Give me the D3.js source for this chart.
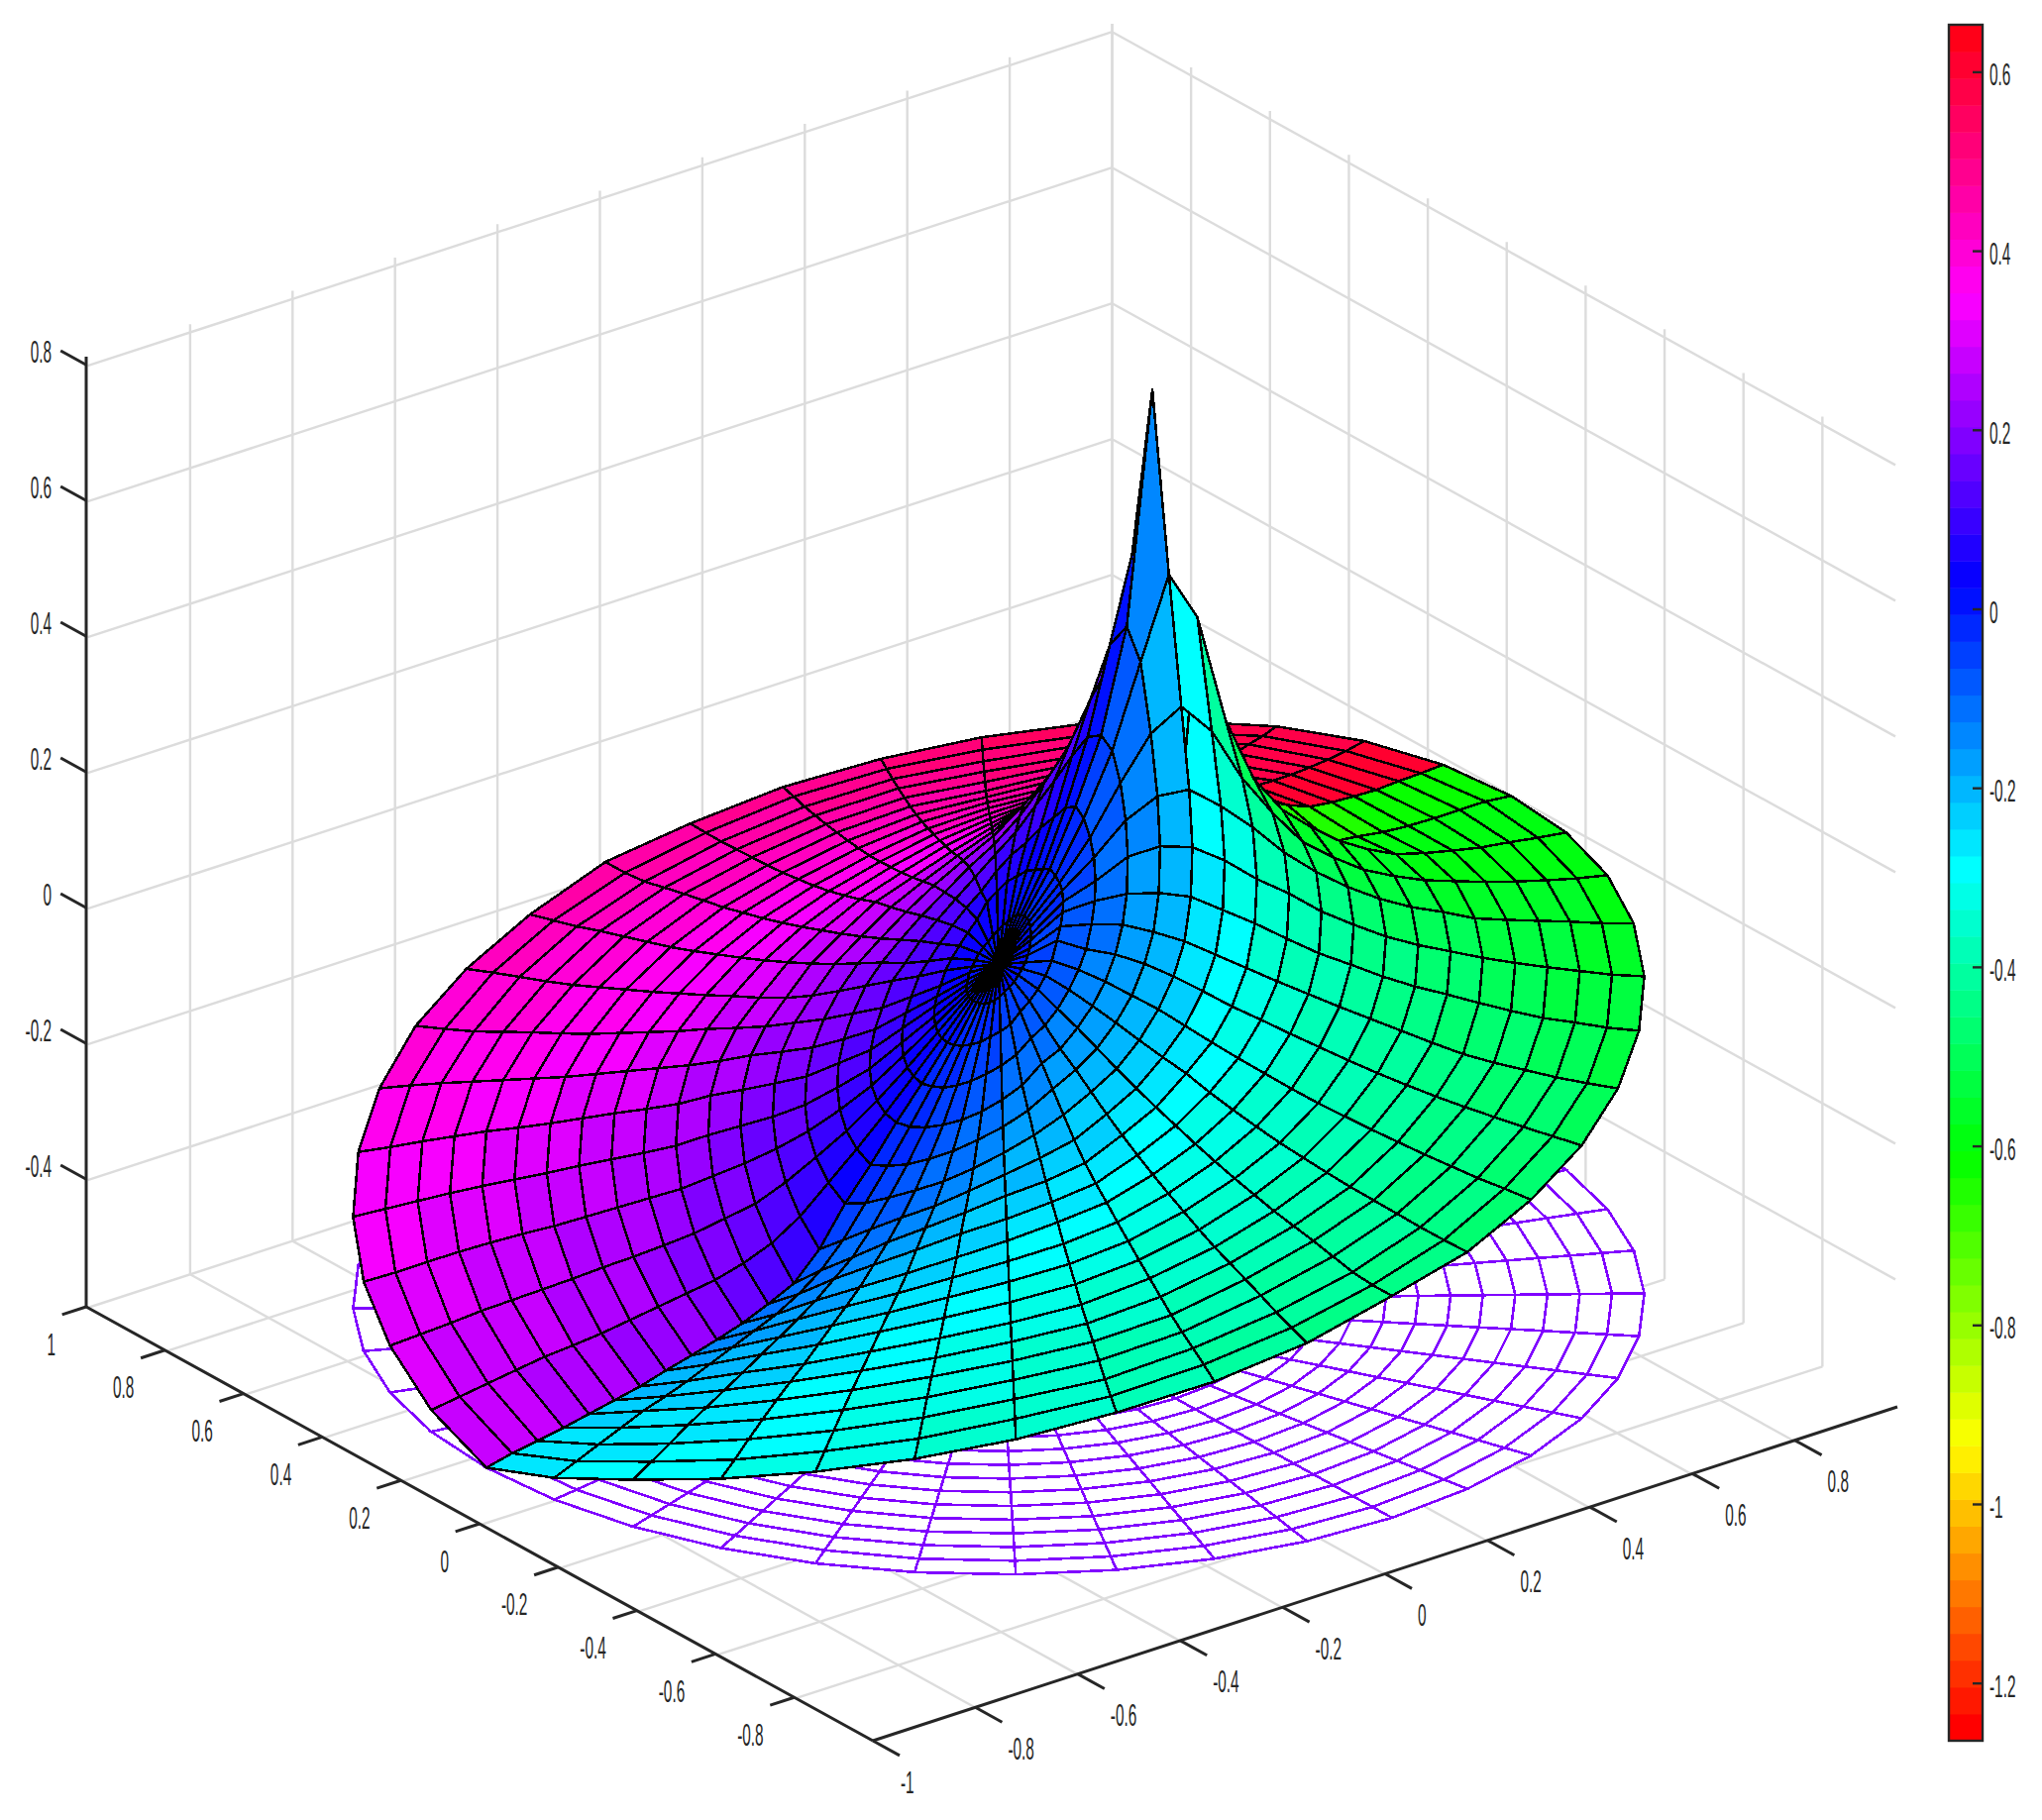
<!DOCTYPE html>
<html><head><meta charset="utf-8">
<script src="https://cdn.jsdelivr.net/npm/d3@7/dist/d3.min.js"></script>
<style>html,body{margin:0;padding:0;background:#fff}svg{display:block}text{font-family:"Liberation Sans",Arial,sans-serif;font-size:32px;fill:#262626}</style>
</head><body><svg id="c" width="2061" height="1837"></svg>
<script>
const ringRadii=[0,.05,.1,.15,.2,.25,.3,.35,.4,.45,.5,.55,.6,.65,.7,.75,.8,.85,.9,.95,1];
const spokeAngles=[-180,-171,-162,-153,-144,-135,-126,-117,-108,-99,-90,-81,-72,-63,-54,-45,-36,-27,-18,-9,0,9,18,27,36,45,54,63,72,81,90,99,108,117,126,135,144,153,162,171,180];
const heightRows=[
[-.016,-.016,-.016,-.016,-.016,-.016,-.016,-.016,-.016,-.016,-.016,-.016,-.016,-.016,-.016,-.016,-.016,-.016,-.016,-.016,-.016,-.016,-.016,-.016,-.016,-.016,-.016,-.016,-.016,-.016,-.016,-.016,-.016,-.016,-.016,-.016,-.016,-.016,-.016,-.016,-.016],
[-.058,-.058,-.057,-.056,-.053,-.049,-.044,-.037,-.031,-.024,-.016,-.009,-.002,.006,.013,.022,.027,.035,.04,.042,.043,.042,.04,.035,.027,.022,.013,.006,-.002,-.009,-.016,-.024,-.031,-.037,-.044,-.049,-.053,-.056,-.057,-.058,-.058],
[-.107,-.106,-.103,-.098,-.092,-.083,-.075,-.065,-.048,-.035,-.021,-.005,.012,.036,.051,.066,.075,.085,.09,.095,.1,.095,.09,.085,.075,.066,.051,.036,.012,-.005,-.021,-.035,-.048,-.065,-.075,-.083,-.092,-.098,-.103,-.106,-.107],
[-.155,-.152,-.148,-.14,-.13,-.118,-.105,-.09,-.068,-.053,-.034,-.012,.01,.032,.06,.085,.105,.13,.15,.17,.18,.17,.15,.13,.105,.085,.06,.032,.01,-.012,-.034,-.053,-.068,-.09,-.105,-.118,-.13,-.14,-.148,-.152,-.155],
[-.2,-.197,-.19,-.18,-.168,-.153,-.135,-.115,-.086,-.07,-.046,-.022,.004,.033,.065,.098,.14,.181,.224,.26,.272,.26,.224,.181,.14,.098,.065,.033,.004,-.022,-.046,-.07,-.086,-.115,-.135,-.153,-.168,-.18,-.19,-.197,-.2],
[-.25,-.24,-.228,-.212,-.195,-.175,-.155,-.132,-.105,-.083,-.06,-.033,-.005,.028,.06,.102,.155,.213,.29,.381,.42,.381,.29,.213,.155,.102,.06,.028,-.005,-.033,-.06,-.083,-.105,-.132,-.155,-.175,-.195,-.212,-.228,-.24,-.25],
[-.295,-.28,-.26,-.24,-.22,-.197,-.173,-.149,-.124,-.098,-.074,-.045,-.014,.018,.052,.099,.153,.219,.323,.5,.757,.5,.323,.219,.153,.099,.052,.018,-.014,-.045,-.074,-.098,-.124,-.149,-.173,-.197,-.22,-.24,-.26,-.28,-.295],
[-.35,-.32,-.29,-.262,-.237,-.21,-.185,-.163,-.142,-.113,-.087,-.056,-.027,.005,.038,.082,.133,.191,.28,.428,.08,.428,.28,.191,.133,.082,.038,.005,-.027,-.056,-.087,-.113,-.142,-.163,-.185,-.21,-.237,-.262,-.29,-.32,-.35],
[-.388,-.35,-.315,-.28,-.25,-.222,-.196,-.177,-.157,-.126,-.099,-.066,-.04,-.009,.024,.065,.105,.156,.204,.266,.06,.266,.204,.156,.105,.065,.024,-.009,-.04,-.066,-.099,-.126,-.157,-.177,-.196,-.222,-.25,-.28,-.315,-.35,-.388],
[-.406,-.37,-.33,-.295,-.263,-.233,-.21,-.188,-.168,-.138,-.11,-.08,-.052,-.02,.01,.045,.083,.115,.146,.17,.045,.17,.146,.115,.083,.045,.01,-.02,-.052,-.08,-.11,-.138,-.168,-.188,-.21,-.233,-.263,-.295,-.33,-.37,-.406],
[-.422,-.385,-.345,-.31,-.278,-.248,-.222,-.198,-.177,-.149,-.121,-.092,-.063,-.032,-.003,.026,.056,.083,.096,.115,.03,.115,.096,.083,.056,.026,-.003,-.032,-.063,-.092,-.121,-.149,-.177,-.198,-.222,-.248,-.278,-.31,-.345,-.385,-.422],
[-.434,-.395,-.356,-.32,-.288,-.258,-.232,-.21,-.187,-.159,-.131,-.103,-.074,-.043,-.016,.012,.036,.057,.067,.08,.02,.08,.067,.057,.036,.012,-.016,-.043,-.074,-.103,-.131,-.159,-.187,-.21,-.232,-.258,-.288,-.32,-.356,-.395,-.434],
[-.445,-.405,-.366,-.33,-.297,-.267,-.242,-.22,-.196,-.168,-.14,-.113,-.084,-.054,-.028,-.003,.018,.036,.042,.05,.012,.05,.042,.036,.018,-.003,-.028,-.054,-.084,-.113,-.14,-.168,-.196,-.22,-.242,-.267,-.297,-.33,-.366,-.405,-.445],
[-.455,-.415,-.375,-.34,-.306,-.277,-.252,-.23,-.205,-.177,-.148,-.121,-.092,-.064,-.04,-.015,.005,.02,.026,.028,.004,.028,.026,.02,.005,-.015,-.04,-.064,-.092,-.121,-.148,-.177,-.205,-.23,-.252,-.277,-.306,-.34,-.375,-.415,-.455],
[-.466,-.425,-.385,-.35,-.316,-.287,-.262,-.24,-.213,-.185,-.156,-.129,-.1,-.073,-.052,-.024,-.005,.009,.013,.011,0,.011,.013,.009,-.005,-.024,-.052,-.073,-.1,-.129,-.156,-.185,-.213,-.24,-.262,-.287,-.316,-.35,-.385,-.425,-.466],
[-.474,-.433,-.394,-.358,-.325,-.296,-.27,-.248,-.221,-.191,-.162,-.136,-.107,-.081,-.063,-.034,-.015,-.004,.005,.003,-.006,.003,.005,-.004,-.015,-.034,-.063,-.081,-.107,-.136,-.162,-.191,-.221,-.248,-.27,-.296,-.325,-.358,-.394,-.433,-.474],
[-.482,-.44,-.403,-.367,-.334,-.304,-.278,-.255,-.229,-.197,-.168,-.142,-.114,-.088,-.07,-.043,-.023,-.01,-.003,-.003,-.009,-.003,-.003,-.01,-.023,-.043,-.07,-.088,-.114,-.142,-.168,-.197,-.229,-.255,-.278,-.304,-.334,-.367,-.403,-.44,-.482],
[-.49,-.45,-.412,-.377,-.344,-.314,-.286,-.263,-.235,-.203,-.175,-.148,-.12,-.094,-.075,-.051,-.03,-.015,-.009,-.008,-.01,-.008,-.009,-.015,-.03,-.051,-.075,-.094,-.12,-.148,-.175,-.203,-.235,-.263,-.286,-.314,-.344,-.377,-.412,-.45,-.49],
[-.497,-.46,-.423,-.388,-.355,-.324,-.294,-.271,-.24,-.21,-.182,-.154,-.126,-.1,-.08,-.055,-.036,-.02,-.014,-.01,-.01,-.01,-.014,-.02,-.036,-.055,-.08,-.1,-.126,-.154,-.182,-.21,-.24,-.271,-.294,-.324,-.355,-.388,-.423,-.46,-.497],
[-.503,-.47,-.433,-.4,-.366,-.335,-.303,-.276,-.245,-.215,-.185,-.159,-.13,-.105,-.083,-.06,-.042,-.026,-.018,-.013,-.01,-.013,-.018,-.026,-.042,-.06,-.083,-.105,-.13,-.159,-.185,-.215,-.245,-.276,-.303,-.335,-.366,-.4,-.433,-.47,-.503],
[-.512,-.48,-.443,-.41,-.377,-.345,-.313,-.28,-.251,-.22,-.185,-.163,-.135,-.11,-.085,-.062,-.045,-.03,-.02,-.015,-.014,-.015,-.02,-.03,-.045,-.062,-.085,-.11,-.135,-.163,-.185,-.22,-.251,-.28,-.313,-.345,-.377,-.41,-.443,-.48,-.512]
];
const colourRows=[
[0,0,0,0,0,0,0,0,0,0,0,0,0,0,0,0,0,0,0,0,0,0,0,0,0,0,0,0,0,0,0,0,0,0,0,0,0,0,0,0,0],
[-.002,-.01,-.015,-.02,-.027,-.032,-.036,-.04,-.043,-.044,-.045,-.044,-.043,-.04,-.036,-.032,-.027,-.02,-.015,-.01,0,.01,.015,.02,.027,.032,.036,.04,.043,.044,.045,.044,.043,.04,.036,.032,.027,.02,.015,.01,.002],
[-.01,-.015,-.03,-.042,-.054,-.064,-.073,-.08,-.085,-.088,-.09,-.088,-.085,-.08,-.075,-.07,-.06,-.05,-.035,-.02,0,.02,.035,.05,.06,.07,.075,.08,.085,.088,.09,.088,.085,.08,.073,.064,.054,.042,.03,.015,.01],
[-.015,-.025,-.045,-.062,-.08,-.093,-.105,-.115,-.123,-.128,-.13,-.13,-.127,-.122,-.117,-.11,-.1,-.085,-.07,-.04,0,.04,.07,.085,.1,.11,.117,.122,.127,.13,.13,.128,.123,.115,.105,.093,.08,.062,.045,.025,.015],
[-.02,-.035,-.06,-.08,-.102,-.12,-.135,-.148,-.158,-.166,-.17,-.17,-.17,-.167,-.165,-.16,-.15,-.14,-.12,-.07,0,.07,.12,.14,.15,.16,.165,.167,.17,.17,.17,.166,.158,.148,.135,.12,.102,.08,.06,.035,.02],
[-.03,-.05,-.075,-.1,-.124,-.145,-.163,-.178,-.19,-.2,-.205,-.206,-.208,-.21,-.213,-.215,-.215,-.21,-.19,-.14,0,.14,.19,.21,.215,.215,.213,.21,.208,.206,.205,.2,.19,.178,.163,.145,.124,.1,.075,.05,.03],
[-.05,-.07,-.095,-.12,-.145,-.17,-.19,-.205,-.22,-.23,-.235,-.24,-.245,-.25,-.26,-.27,-.28,-.29,-.29,-.3,0,.3,.29,.29,.28,.27,.26,.25,.245,.24,.235,.23,.22,.205,.19,.17,.145,.12,.095,.07,.05],
[-.08,-.1,-.125,-.145,-.17,-.195,-.215,-.23,-.245,-.255,-.265,-.27,-.28,-.29,-.305,-.32,-.33,-.35,-.42,-.58,-1.26,.58,.42,.35,.33,.32,.305,.29,.28,.27,.265,.255,.245,.23,.215,.195,.17,.145,.125,.105,.1],
[-.1,-.12,-.145,-.18,-.2,-.22,-.24,-.255,-.27,-.28,-.29,-.3,-.31,-.325,-.34,-.36,-.385,-.42,-.5,-.6,-1,.6,.5,.42,.385,.36,.34,.325,.31,.3,.29,.28,.27,.255,.24,.22,.2,.18,.16,.14,.12],
[-.12,-.14,-.16,-.2,-.22,-.24,-.26,-.275,-.29,-.3,-.31,-.32,-.335,-.35,-.37,-.39,-.42,-.47,-.53,-.6,-.85,.6,.53,.47,.42,.39,.37,.35,.335,.32,.31,.3,.29,.275,.26,.24,.22,.2,.18,.165,.15],
[-.14,-.16,-.18,-.22,-.24,-.26,-.28,-.295,-.31,-.32,-.33,-.34,-.355,-.37,-.395,-.42,-.45,-.5,-.55,-.6,-.75,.6,.55,.5,.45,.42,.395,.37,.355,.34,.33,.32,.31,.295,.28,.26,.24,.22,.2,.185,.17],
[-.155,-.175,-.2,-.235,-.255,-.275,-.295,-.31,-.325,-.335,-.345,-.36,-.375,-.39,-.415,-.44,-.47,-.52,-.56,-.6,-.68,.6,.56,.52,.47,.44,.415,.39,.375,.36,.345,.335,.325,.31,.295,.275,.255,.235,.22,.205,.19],
[-.17,-.19,-.215,-.25,-.27,-.29,-.31,-.325,-.34,-.35,-.36,-.375,-.39,-.405,-.43,-.455,-.49,-.53,-.57,-.6,-.65,.6,.57,.53,.49,.455,.43,.405,.39,.375,.36,.35,.34,.325,.31,.29,.27,.25,.235,.22,.2],
[-.19,-.205,-.23,-.26,-.28,-.3,-.32,-.34,-.355,-.365,-.375,-.39,-.405,-.42,-.445,-.47,-.505,-.54,-.575,-.6,-.64,.6,.575,.54,.505,.47,.445,.42,.405,.39,.375,.365,.355,.34,.32,.3,.28,.26,.245,.23,.22],
[-.205,-.22,-.24,-.27,-.29,-.31,-.33,-.35,-.365,-.38,-.39,-.405,-.42,-.435,-.46,-.485,-.515,-.55,-.58,-.6,-.635,.6,.58,.55,.515,.485,.46,.435,.42,.405,.39,.38,.365,.35,.33,.31,.29,.27,.255,.24,.23],
[-.22,-.235,-.25,-.28,-.3,-.32,-.34,-.36,-.375,-.39,-.4,-.415,-.43,-.45,-.47,-.495,-.525,-.555,-.58,-.6,-.63,.6,.58,.555,.525,.495,.47,.45,.43,.415,.4,.39,.375,.36,.34,.32,.3,.28,.265,.25,.24],
[-.235,-.25,-.26,-.29,-.31,-.33,-.35,-.37,-.385,-.4,-.41,-.43,-.445,-.46,-.485,-.51,-.535,-.56,-.585,-.6,-.63,.6,.585,.56,.535,.51,.485,.46,.445,.43,.41,.4,.385,.37,.35,.33,.31,.29,.275,.26,.25],
[-.25,-.26,-.27,-.3,-.32,-.335,-.355,-.375,-.395,-.41,-.42,-.44,-.455,-.475,-.495,-.52,-.545,-.565,-.585,-.6,-.63,.6,.585,.565,.545,.52,.495,.475,.455,.44,.42,.41,.395,.375,.355,.335,.32,.3,.285,.27,.26],
[-.265,-.27,-.28,-.305,-.325,-.34,-.36,-.38,-.4,-.42,-.43,-.45,-.47,-.485,-.505,-.53,-.555,-.57,-.59,-.6,-.63,.6,.59,.57,.555,.53,.505,.485,.47,.45,.43,.42,.4,.38,.36,.34,.325,.305,.29,.28,.27],
[-.275,-.28,-.29,-.31,-.33,-.345,-.365,-.385,-.41,-.43,-.445,-.46,-.48,-.5,-.52,-.545,-.56,-.58,-.59,-.6,-.63,.6,.59,.58,.56,.545,.52,.5,.48,.46,.445,.43,.41,.385,.365,.345,.33,.31,.295,.285,.28],
[-.285,-.29,-.3,-.315,-.335,-.35,-.37,-.39,-.415,-.435,-.455,-.47,-.49,-.51,-.53,-.555,-.57,-.58,-.59,-.6,-.63,.6,.59,.58,.57,.555,.53,.51,.49,.47,.455,.435,.415,.39,.37,.35,.335,.315,.3,.29,.285]
];
const floorLevel=-.512, floorColourValue=.2;
const xTicks=[-1,-.8,-.6,-.4,-.2,0,.2,.4,.6,.8];
const yTicks=[1,.8,.6,.4,.2,0,-.2,-.4,-.6,-.8];
const zTicks=[-.4,-.2,0,.2,.4,.6,.8];
const barTicks=[.6,.4,.2,0,-.2,-.4,-.6,-.8,-1,-1.2];
const zRange=[-.588,.812], colourRange=[-1.264,.653], levels=64;

const svg=d3.select("#c");
const zPx=d3.scaleLinear().domain(zRange).range([0,-(zRange[1]-zRange[0])*685]);
const xPx=d3.scaleLinear().domain([-1,1]).range([-517,517]);
const yPx=d3.scaleLinear().domain([-1,1]).range([397,-397]);
const xRise=d3.scaleLinear().domain([-1,1]).range([168.5,-168.5]);
const yRise=d3.scaleLinear().domain([-1,1]).range([219,-219]);
const origin=[1001,1369.5], dataShift=[7,-4.5];
const P=(x,y,z)=>[origin[0]+xPx(x)+yPx(y),origin[1]+xRise(x)+yRise(y)+zPx(z)];
// the reference's grey grid sits slightly off its black axes, most of all towards the right corner
const G=(x,y,z)=>{const p=P(x,y,z),f=(x+1)/2*(1-y)/2;return [p[0]+1.5+2.5*f,p[1]+1+2.5*f];};
const Pd=(x,y,z)=>{const p=P(x,y,z);return [p[0]+dataShift[0],p[1]+dataShift[1]];};
const depth=(x,y,z)=>-.552*x-.719*y+.491*z;
const line=d3.line();

const hueIndex=d3.scaleQuantize().domain(colourRange).range(d3.range(levels));
const colour=v=>{const h=hueIndex(v)/levels*360;return d3.hsl(h,1,.5).formatHex();};

// walls and floor grid
const grid=svg.append("g").attr("fill","none").attr("stroke","#dcdcdc").attr("stroke-width",2.4);
const seg=(a,b)=>grid.append("path").attr("d",line([a,b]));
const [zb,zt]=zRange;
[...xTicks.slice(1),1].forEach(x=>seg(G(x,1,zb),G(x,1,zt)));
[...yTicks.slice(1),1].forEach(y=>seg(G(1,y,zb),G(1,y,zt)));
zTicks.forEach(z=>{seg(G(-1,1,z),G(1,1,z));seg(G(1,1,z),G(1,-.985,z));});
xTicks.forEach(x=>seg(G(x,-1,zb),G(x,1,zb)));
yTicks.forEach(y=>seg(G(-1,y,zb),G(1,y,zb)));

// floor mesh, then the surface
const vertex=(a,b)=>{const r=ringRadii[a],t=spokeAngles[b]*Math.PI/180;return [r*Math.cos(t),r*Math.sin(t)];};
const cells=[];
for(let a=0;a<ringRadii.length-1;a++)for(let b=0;b<spokeAngles.length-1;b++)cells.push([a,b]);
const floor=svg.append("g").attr("shape-rendering","crispEdges");
floor.selectAll("path").data(cells).join("path")
 .attr("d",([a,b])=>line([[a,b],[a+1,b],[a+1,b+1],[a,b+1]].map(([i,j])=>{const v=vertex(i,j);return Pd(v[0],v[1],floorLevel);}))+"Z")
 .attr("fill","#fff");
floor.append("g").selectAll("path").data(cells).join("path")
 .attr("d",([a,b])=>line([[a,b+1],[a,b],[a+1,b],[a+1,b+1]].map(([i,j])=>{const v=vertex(i,j);return Pd(v[0],v[1],floorLevel);})))
 .attr("fill","none").attr("stroke",colour(floorColourValue)).attr("stroke-width",2.6);
const sorted=cells.map(([a,b])=>{
  const q=[[a,b],[a+1,b],[a+1,b+1],[a,b+1]];
  const pts=q.map(([i,j])=>{const v=vertex(i,j);return [v[0],v[1],heightRows[i][j]];});
  return {a,b,pts,d:d3.mean(pts,p=>depth(p[0],p[1],p[2]))};
}).sort((m,n)=>m.d-n.d);
svg.append("g").attr("shape-rendering","crispEdges").selectAll("path").data(sorted).join("path")
 .attr("d",c=>line(c.pts.map(p=>Pd(p[0],p[1],p[2])))+"Z")
 .attr("fill",c=>colour(colourRows[c.a][c.b]))
 .attr("stroke","#000").attr("stroke-width",2.5).attr("stroke-linejoin","round");

// axes
const ax=svg.append("g").attr("fill","none").attr("stroke","#262626").attr("stroke-width",3);
const axSeg=(a,b)=>ax.append("path").attr("d",line([a,b]));
axSeg(P(-1,1,zb),P(-1,1,zt));
axSeg(P(-1,1,zb),P(-1,-1,zb));
axSeg(P(-1,-1,zb),P(1,-1,zb));
const label=(t,x,y,anchor)=>svg.append("text").attr("text-anchor",anchor).attr("transform",`translate(${x},${y}) scale(.48,1)`).attr("dy","0.36em").text(t);
xTicks.forEach(x=>{const p=P(x,-1,zb),q=P(x,-.932,zb);axSeg(p,[2*p[0]-q[0],2*p[1]-q[1]]);label(String(x),p[0]+(x===-1?28:33),p[1]+41,"start");});
yTicks.forEach(y=>{const p=P(-1,y,zb),q=P(-.953,y,zb);axSeg(p,[2*p[0]-q[0],2*p[1]-q[1]]);label(String(y),p[0]-31,p[1]+37,"end");});
zTicks.forEach(z=>{const p=P(-1,1,z),q=P(-1,1.065,z);axSeg(p,q);label(String(z),52,p[1]-14,"end");});

// colour bar
const barY=d3.scaleLinear().domain(colourRange).range([1757,25]);
const bar=svg.append("g");
bar.selectAll("rect").data(d3.range(levels)).join("rect")
 .attr("x",1968).attr("width",32)
 .attr("y",i=>barY(colourRange[0]+(i+1)*(colourRange[1]-colourRange[0])/levels))
 .attr("height",(barY.range()[0]-barY.range()[1])/levels+.5)
 .attr("fill",i=>d3.hsl(i/levels*360,1,.5).formatHex());
bar.append("rect").attr("x",1967).attr("y",25).attr("width",34).attr("height",1732).attr("fill","none").attr("stroke","#262626").attr("stroke-width",2.4);
barTicks.forEach(v=>{
  bar.append("path").attr("d",line([[1991,barY(v)],[2001,barY(v)]])).attr("stroke","#262626").attr("stroke-width",2.4);
  label(String(v),2008,barY(v)+2,"start");
});
</script></body></html>
